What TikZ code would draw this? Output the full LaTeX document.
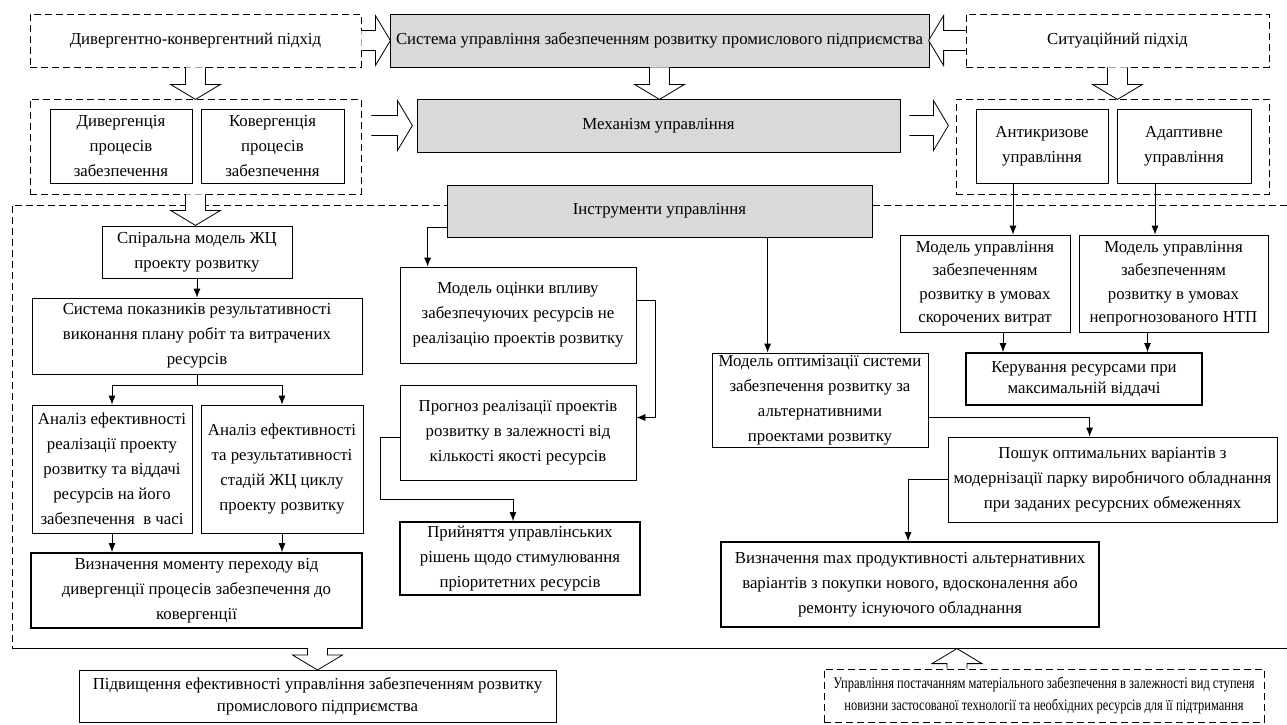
\documentclass[tikz,border=0pt]{standalone}
\usepackage{fontspec}
\setmainfont{Liberation Serif}
\newfontfamily\narrowfont{Liberation Serif}[FakeStretch=0.78]
\usetikzlibrary{arrows.meta,calc}
\definecolor{boxgray}{RGB}{217,217,217}

\tikzset{
  box/.style={draw, line width=0.8pt, align=center, inner sep=0pt, font=\fontsize{16.8}{25}\selectfont},
  thickbox/.style={box, line width=1.8pt},
  graybox/.style={box, fill=boxgray},
  dashline/.style={line width=0.8pt, dash pattern=on 7pt off 4pt},
  dashbox/.style={box, dashline},
  wh/.style 2 args={minimum width=#1pt, minimum height=#2pt},
  conn/.style={line width=0.8pt, -{Latex[length=9pt,width=7pt]}},
  fatline/.style={line width=0.8pt, line join=miter}
}

% hollow block arrow: start, direction angle, length
\newcommand{\fatarrow}[3]{%
  \begin{scope}[shift={(#1)}, rotate=#2]
    \fill[white] (0,-10) -- (#3-15,-10) -- (#3-15,-25) -- (#3,0) -- (#3-15,25) -- (#3-15,10) -- (0,10) -- cycle;
    \draw[fatline] (0,-10) -- (#3-15,-10) -- (#3-15,-25) -- (#3,0) -- (#3-15,25) -- (#3-15,10) -- (0,10);
  \end{scope}}

\begin{document}
\begin{tikzpicture}[x=1pt, y=-1pt]
	\useasboundingbox (0,0) rectangle (1287,724);
	% frame of the tools block
	\coordinate (fnw) at (12,205);
	\coordinate (fsw) at (12,648);
	\draw[dashline] (1287,205) -- (fnw) -- (fsw);
	\draw[line width=0.8pt] (fsw) -- (1287,648);

	% top row
	\node[dashbox, wh={331}{53}] (dk) at (195.5,40.5) {Дивергентно-конвергентний підхід};
	\node[graybox, wh={539}{53}] (sys) at (659.5,40.5) {Система управління забезпеченням розвитку промислового підприємства};
	\node[dashbox, wh={303}{53}] (sit) at (1117.5,40.5) {Ситуаційний підхід};

	% second row
	\node[dashbox, wh={331}{95}] (dkgroup) at (195.5,146.5) {};
	\node[box, wh={142}{74}] (div) at (121,146) {Дивергенція\\процесів\\забезпечення};
	\node[box, wh={143}{74}] (conv) at (272.5,146) {Ковергенція\\процесів\\забезпечення};
	\node[graybox, wh={483}{53}] (mech) at (658.5,125.5) {Механізм управління};
	\node[dashbox, wh={313}{95}] (sitgroup) at (1112.5,146.5) {};
	\node[box, wh={132}{74}] (anti) at (1042,146) {Антикризове\\управління};
	\node[box, wh={134}{74}] (adapt) at (1184,146) {Адаптивне\\управління};

	% tools
	\node[graybox, wh={425}{52}] (tools) at (659.5,211) {Інструменти управління};

	% left column
	\node[box, wh={190}{52}] (spiral) at (197,252) {Спіральна модель ЖЦ\\проекту розвитку};
	\node[box, wh={330}{76}] (sysind) at (197,336) {Система показників результативності\\виконання плану робіт та витрачених\\ресурсів};
	\node[box, wh={160}{128}] (anl1) at (112,469) {Аналіз ефективності\\реалізації проекту\\розвитку та віддачі\\ресурсів на його\\забезпечення~ в часі};
	\node[box, wh={162}{128}] (anl2) at (282,469) {Аналіз ефективності\\та результативності\\стадій ЖЦ циклу\\проекту розвитку};
	\node[thickbox, wh={331}{75}] (detm) at (196.5,590.5) {Визначення моменту переходу від\\дивергенції процесів забезпечення до\\ковергенції};

	% middle column
	\node[box, wh={236}{96}] (eval) at (518,315) {Модель оцінки впливу\\забезпечуючих ресурсів не\\реалізацію проектів розвитку};
	\node[box, wh={236}{95}] (forecast) at (518,432.5) {Прогноз реалізації проектів\\розвитку в залежності від\\кількості якості ресурсів};
	\node[thickbox, wh={240}{73}] (decide) at (520,558.5) {Прийняття управлінських\\рішень щодо стимулювання\\пріоритетних ресурсів};

	% right column
	\node[box, wh={216}{94}] (opt) at (820,400) {Модель оптимізації системи\\забезпечення розвитку за\\альтернативними\\проектами розвитку};
	\node[box, wh={170}{97}, font=\fontsize{16.8}{23.5}\selectfont] (cut) at (985,283.5) {Модель управління\\забезпеченням\\розвитку в умовах\\скорочених витрат};
	\node[box, wh={189}{97}, font=\fontsize{16.8}{23.5}\selectfont] (ntp) at (1173.5,283.5) {Модель управління\\забезпеченням\\розвитку в умовах\\непрогнозованого НТП};
	\node[thickbox, wh={236}{52}, font=\fontsize{16.8}{21}\selectfont] (control) at (1084,379) {Керування ресурсами при\\максимальній віддачі};
	\node[box, wh={329}{85}] (search) at (1112.5,479.5) {Пошук оптимальних варіантів з\\модернізації парку виробничого обладнання\\при заданих ресурсних обмеженнях};
	\node[thickbox, wh={378}{85}] (max) at (910,584.5) {Визначення max продуктивності альтернативних\\варіантів з покупки нового, вдосконалення або\\ремонту існуючого обладнання};

	% bottom row
	\node[box, wh={477}{52}, font=\fontsize{16.8}{22}\selectfont] (result) at (317.5,696) {Підвищення ефективності управління забезпеченням розвитку\\промислового підприємства};
	\node[dashbox, wh={440}{53}, font=\narrowfont\fontsize{16}{22}\selectfont] (supply) at (1044,695.5) {Управління постачанням матеріального забезпечення в залежності вид ступеня\\новизни застосованої технології та необхідних ресурсів для її підтримання};

	% block arrows
	\fatarrow{dk.east}{0}{29}
	\fatarrow{sit.west}{180}{37}
	\fatarrow{dk.south}{-90}{32}
	\fatarrow{sys.south}{-90}{32}
	\fatarrow{sit.south}{-90}{32}
	\fatarrow{$(dkgroup.east |- mech.west)+(10,0)$}{0}{41}
	\fatarrow{$(mech.east)+(9,0)$}{0}{39}
	\fatarrow{dkgroup.south}{-90}{31}
	\fatarrow{result.north |- fsw}{-90}{22}
	\fatarrow{$(supply.north)+(-87,0)$}{90}{20}

	% connectors, left
	\draw[conn] (spiral.south) -- (spiral.south |- sysind.north);
	\draw[line width=0.8pt] (sysind.south) -- ++(0,11) coordinate (br);
	\draw[conn] (br) -| (anl1.north);
	\draw[conn] (br) -| (anl2.north);
	\draw[conn] (anl1.south) -- (anl1.south |- detm.north);
	\draw[conn] (anl2.south) -- (anl2.south |- detm.north);

	% connectors, middle
	\draw[conn] ($(tools.west)+(0,16)$) -| ($(eval.north west)+(28,0)$);
	\draw[conn] ($(eval.east)+(0,-15)$) -- ++(19,0) |- ($(forecast.east)+(0,-15)$);
	\draw[conn] ($(forecast.west)+(0,5)$) -- ++(-19,0) |- ($(decide.north)+(-7,-22)$) -- ($(decide.north)+(-7,0)$);

	% connectors, right
	\coordinate (optin) at ($(opt.north west)+(56,0)$);
	\draw[conn] (tools.south -| optin) -- (optin);
	\draw[conn] ($(anti.south)+(-29,0)$) coordinate (a1) -- (a1 |- cut.north);
	\draw[conn] ($(adapt.south)+(-29,0)$) coordinate (a2) -- (a2 |- ntp.north);
	\draw[conn] ($(cut.south)+(18,0)$) coordinate (c1) -- (c1 |- control.north);
	\draw[conn] ($(ntp.south)+(-26,0)$) coordinate (c2) -- (c2 |- control.north);
	\draw[conn] ($(opt.east)+(0,17)$) -| ($(search.north west)+(142,0)$);
	\draw[conn] (search.west) -| ($(max.north west)+(188,0)$);
\end{tikzpicture}
\end{document}
